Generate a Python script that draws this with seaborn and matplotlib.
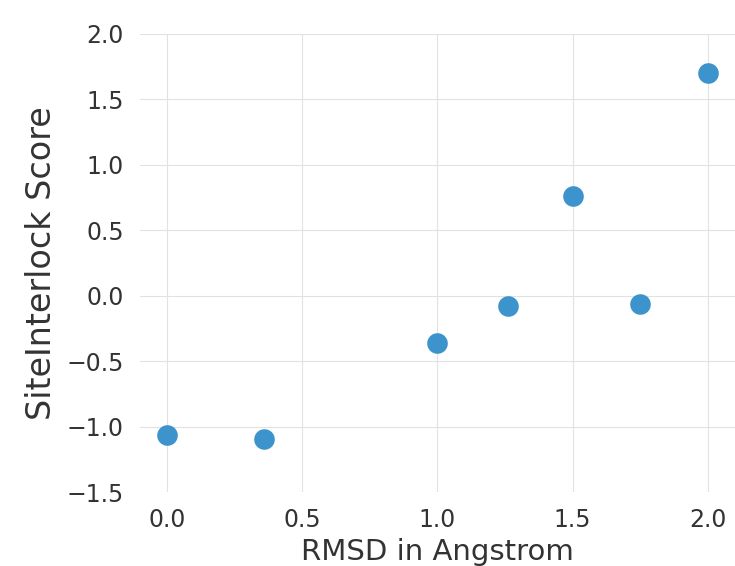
import matplotlib
matplotlib.use("Agg")
import matplotlib.pyplot as plt
import seaborn as sns
import pandas as pd

# values
rmsd = [0.0, 0.36, 1.0, 1.26, 1.5, 1.75, 2.0]
score = [-1.06, -1.09, -0.36, -0.08, 0.76, -0.06, 1.70]

x_ticks = [0.0, 0.5, 1.0, 1.5, 2.0]
y_ticks = [-1.5, -1.0, -0.5, 0.0, 0.5, 1.0, 1.5, 2.0]

df = pd.DataFrame({"rmsd": rmsd, "score": score})

sns.set_style("whitegrid", {"grid.color": "#e2e2e2", "axes.edgecolor": "white"})
plt.rcParams["font.family"] = ["DejaVu Sans"]

fig = plt.figure(figsize=(7.35, 5.66), dpi=100)
ax = fig.add_axes([0.19, 0.13, 0.81, 0.81])

sns.scatterplot(
    data=df,
    x="rmsd",
    y="score",
    s=220,
    color="#3d93cc",
    linewidth=0,
    ax=ax
)

ax.set_xlim(-0.1, 2.1)
ax.set_ylim(-1.5, 2.0)
ax.set_xticks(x_ticks)
ax.set_yticks(y_ticks)
ax.set_xticklabels([f"{t:.1f}" for t in x_ticks])
ax.set_yticklabels([f"{t:.1f}".replace("-", "\u2212") for t in y_ticks])
ax.tick_params(labelsize=17, colors="#333333", pad=8)

ax.set_xlabel("RMSD in Angstrom", fontsize=21, color="#333333", labelpad=4)
ax.set_ylabel("SiteInterlock Score", fontsize=24, color="#333333", labelpad=6)

sns.despine(ax=ax, left=True, bottom=True)

fig.savefig("out.png", dpi=100)
